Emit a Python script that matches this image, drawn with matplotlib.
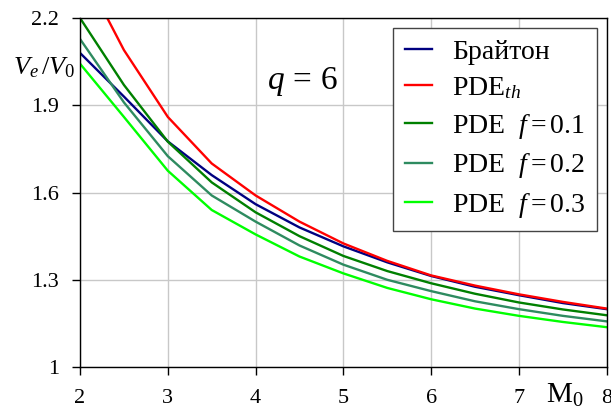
import numpy as np
import matplotlib
matplotlib.use("Agg")
import matplotlib.pyplot as plt

plt.rcParams['font.family'] = ['Liberation Serif', 'DejaVu Serif']
plt.rcParams['mathtext.fontset'] = 'custom'
plt.rcParams['mathtext.rm'] = 'Liberation Serif'
plt.rcParams['mathtext.it'] = 'Liberation Serif:italic'

# Mach number grid
m0 = [2, 2.5, 3, 3.5, 4, 4.5, 5, 5.5, 6, 6.5, 7, 7.5, 8]

# Ve/V0 curves
brayton = [2.08, 1.93, 1.776, 1.66, 1.56, 1.48, 1.415, 1.36, 1.313, 1.276, 1.247, 1.22, 1.199]
pde_th = [2.38, 2.09, 1.86, 1.70, 1.59, 1.50, 1.425, 1.365, 1.315, 1.28, 1.25, 1.224, 1.201]
pde_f01 = [2.2, 1.97, 1.775, 1.635, 1.532, 1.45, 1.382, 1.33, 1.288, 1.252, 1.222, 1.198, 1.178]
pde_f02 = [2.128, 1.91, 1.725, 1.59, 1.50, 1.418, 1.352, 1.30, 1.261, 1.226, 1.199, 1.176, 1.157]
pde_f03 = [2.043, 1.86, 1.675, 1.54, 1.456, 1.38, 1.322, 1.272, 1.233, 1.201, 1.176, 1.155, 1.137]

series = [
    (brayton, 'Брайтон', '#000080'),
    (pde_th, 'PDE$_{th}$', '#ff0000'),
    (pde_f01, 'PDE  $f=0.1$', '#008000'),
    (pde_f02, 'PDE  $f=0.2$', '#2e8b60'),
    (pde_f03, 'PDE  $f=0.3$', '#00ff00'),
]

fig = plt.figure(figsize=(6.11, 4.11), dpi=100)
ax = fig.add_axes([0.131, 0.107, 0.862, 0.849])

for vals, label, color in series:
    ax.plot(m0, vals, color=color, lw=1.7, label=label)

ax.set_xlim(2, 8)
ax.set_ylim(1, 2.2)
ax.set_xticks([2, 3, 4, 5, 6, 7, 8])
ax.set_yticks([1, 1.3, 1.6, 1.9, 2.2])
ax.set_yticklabels(['1', '1.3', '1.6', '1.9', '2.2'])
ax.grid(True, color='#c8c8c8', lw=1)
ax.set_axisbelow(True)
ax.tick_params(axis='both', direction='out', length=6, width=1, labelsize=16)
ax.tick_params(axis='x', pad=10)
ax.tick_params(axis='y', pad=9)
for s in ax.spines.values():
    s.set_linewidth(1)

ax.text(0.423, 0.817, '$q\\,=\\,6$', transform=ax.transAxes, fontsize=24,
        ha='center', va='center')
ax.text(-0.068, 0.857, '$V_e\\,/V_0$', transform=ax.transAxes, fontsize=19,
        ha='center', va='center')
ax.text(0.92, -0.08, 'M$_0$', transform=ax.transAxes, fontsize=21,
        ha='center', va='center')

leg = ax.legend(loc='upper right', bbox_to_anchor=(0.981, 0.971), fontsize=20,
                frameon=True, fancybox=False, framealpha=1, edgecolor='#444444',
                handlelength=1.0, handletextpad=0.72, labelspacing=0.38,
                borderpad=0.4, borderaxespad=0)
leg.get_frame().set_linewidth(1)

fig.savefig('out.png', dpi=100)
